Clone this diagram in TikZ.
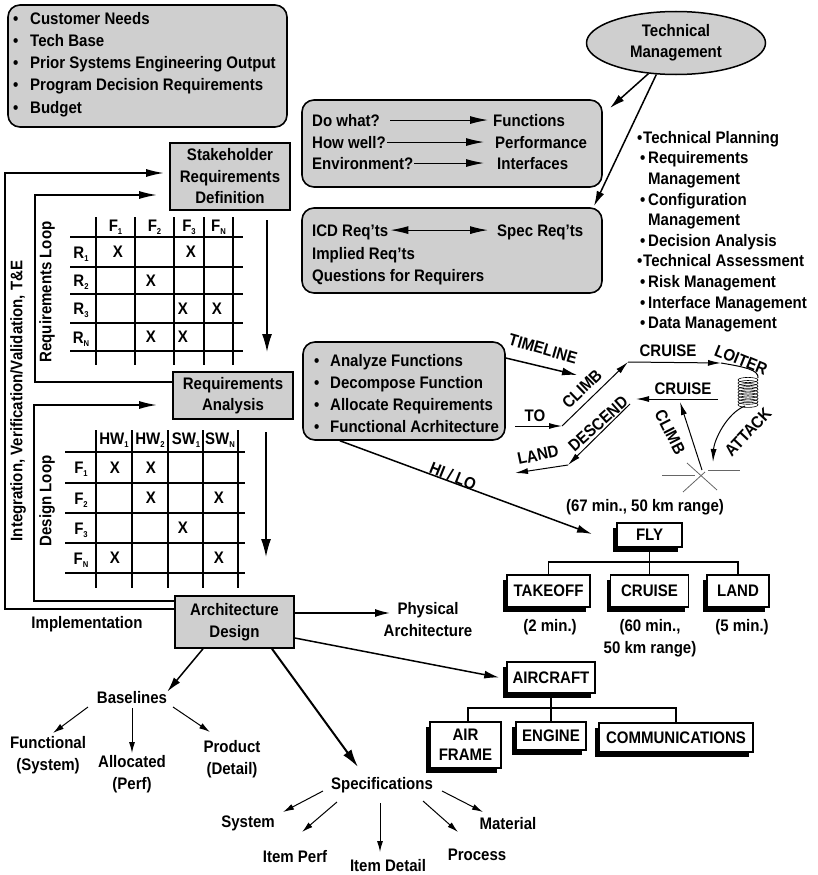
\documentclass[tikz,border=0pt]{standalone}
\usepackage{fontspec}
\setmainfont{Liberation Sans}[FakeStretch=0.9]
\usetikzlibrary{arrows.meta,shapes.geometric,shadows}
\definecolor{boxgray}{gray}{0.81}
\newcommand\sbs[1]{\raisebox{-3pt}{\fontsize{8.5}{8.5}\selectfont #1}}
\newcommand\fnt{\fontsize{16.7}{22}\selectfont\bfseries}
\begin{document}
\begin{tikzpicture}[x=1pt,y=-1pt,
  every node/.style={inner sep=0pt, font=\fnt},
  gbox/.style={draw, line width=1.6pt, fill=boxgray, align=center},
  rbox/.style={draw, line width=1.6pt, fill=boxgray, rounded corners=12pt},
  sbox/.style={draw, line width=1.5pt, fill=white, align=center,
    general shadow={fill=black, shadow xshift=-4pt, shadow yshift=-5pt}},
  tline/.style={line width=1.5pt},
  gline/.style={line width=1.6pt},
  lp/.style={line width=1.8pt, -{Latex[length=18pt,width=8pt]}},
  varr/.style={line width=1.5pt, -{Latex[length=18pt,width=10pt]}},
  arr/.style={line width=1.5pt, -{Latex[length=15pt,width=8pt]}},
  arrm/.style={line width=1pt, -{Latex[length=18pt,width=8pt]}},
  arrs/.style={line width=1pt, -{Latex[length=11pt,width=6pt]}},
  arrb/.style={line width=2pt, -{Latex[length=18pt,width=10pt]}},
  marr/.style={line width=1pt, -{Latex[length=13pt,width=6pt]}},
  mline/.style={line width=1pt},
  star/.style={line width=0.8pt, black!60},
]
\useasboundingbox (0,0) rectangle (817,875);

% ---------- top-left inputs ----------
\node[rbox, minimum width=279pt, minimum height=122pt] (inp) at (147.5,66) {};
\node[anchor=north west, align=left, font=\fontsize{16.7}{22.2}\selectfont\bfseries] (inpt) at (13,12)
 {\makebox[17pt][l]{•}Customer Needs\\
  \makebox[17pt][l]{•}Tech Base\\
  \makebox[17pt][l]{•}Prior Systems Engineering Output\\
  \makebox[17pt][l]{•}Program Decision Requirements\\
  \makebox[17pt][l]{•}Budget};

% ---------- technical management ----------
\node[ellipse, draw, line width=1.5pt, fill=boxgray, minimum width=179pt, minimum height=63pt,
  align=center, font=\fontsize{16.7}{21}\selectfont\bfseries] (tm) at (676,43) {Technical\\Management};

\node[rbox, minimum width=300pt, minimum height=87pt] (ub) at (452,143.5) {};
\node[anchor=base west] (dw) at (312,126) {Do what?};
\node[anchor=base west] (hw) at (312,148) {How well?};
\node[anchor=base west] (en) at (312,169) {Environment?};
\node[anchor=base west] (fn) at (493,126) {Functions};
\node[anchor=base west] (pf) at (495,148) {Performance};
\node[anchor=base west] (itf) at (497,169) {Interfaces};
\draw[arrm] ([xshift=10pt]dw.east) -- ([xshift=-5pt]fn.west);
\draw[arrm] ([xshift=1pt]hw.east) -- ([xshift=-11pt]pf.west);
\draw[arrm] ([xshift=1pt]en.east) -- ([xshift=-13pt]itf.west);

\node[rbox, minimum width=300pt, minimum height=85pt] (lb) at (452,250.5) {};
\node[anchor=base west] (icd) at (312,236) {ICD Req’ts};
\node[anchor=base west] (spr) at (497,236) {Spec Req’ts};
\node[anchor=base west] (imp) at (312,259) {Implied Req’ts};
\node[anchor=base west] (qfr) at (312,281) {Questions for Requirers};
\draw[line width=1pt, {Latex[length=18pt,width=8pt]}-{Latex[length=18pt,width=8pt]}]
  ([xshift=2pt,yshift=1.8pt]icd.east) -- ([xshift=-9pt,yshift=1.8pt]spr.west);

\coordinate (t1) at (610,108);
\coordinate (t2) at (594,206);
\draw[arr] (tm.228) -- (t1);
\draw[arr] (tm.238) -- (t2);

\node[anchor=north west, align=left, font=\fontsize{16.7}{20.6}\selectfont\bfseries] (tml) at (637,131)
 {\makebox[6pt][l]{•}Technical Planning\\
  \hspace*{3pt}\makebox[8pt][l]{•}Requirements\\
  \hspace*{11pt}Management\\
  \hspace*{3pt}\makebox[8pt][l]{•}Configuration\\
  \hspace*{11pt}Management\\
  \hspace*{3pt}\makebox[8pt][l]{•}Decision Analysis\\
  \makebox[6pt][l]{•}Technical Assessment\\
  \hspace*{3pt}\makebox[8pt][l]{•}Risk Management\\
  \hspace*{3pt}\makebox[8pt][l]{•}Interface Management\\
  \hspace*{3pt}\makebox[8pt][l]{•}Data Management};

% ---------- process boxes ----------
\node[gbox, minimum width=120pt, minimum height=67pt, font=\fontsize{16.7}{21.5}\selectfont\bfseries] (sh) at (230,176.5) {Stakeholder\\Requirements\\Definition};
\node[gbox, minimum width=120pt, minimum height=47pt, font=\fontsize{16.7}{21}\selectfont\bfseries] (ra) at (233,395.5) {Requirements\\Analysis};
\node[gbox, minimum width=119pt, minimum height=52pt] (ad) at (234.5,622) {Architecture\\Design};

% loops
\coordinate (o1) at (5,609); \coordinate (o2) at (5,173);
\coordinate (r1) at (35,382); \coordinate (r2) at (35,195);
\coordinate (d1) at (34,601); \coordinate (d2) at (34,405);
\draw[lp] (ad.west |- o1) -- (o1) -- (o2) -- ([xshift=-5pt]sh.west |- o2);
\draw[lp] (ra.west |- r1) -- (r1) -- (r2) -- ([xshift=-12pt]sh.west |- r2);
\draw[lp] (ad.west |- d1) -- (d1) -- (d2) -- ([xshift=-15pt]ra.west |- d2);

\node[rotate=90] (ivv) at (18,401) {Integration, Verification/Validation, T\&E};
\node[rotate=90] (rl) at (47,292) {Requirements Loop};
\node[rotate=90] (dl) at (47,501) {Design Loop};
\node (impl) at (87,624) {Implementation};

% vertical arrows
\coordinate (v1a) at (267,220); \coordinate (v1b) at (267,352);
\coordinate (v2a) at (266,432); \coordinate (v2b) at (266,557);
\draw[varr] (v1a) -- (v1b);
\draw[varr] (v2a) -- (v2b);

% ---------- matrix 1 ----------
\foreach \y in {237,267,294,323,351} \draw[gline] (70,\y) -- (243,\y);
\foreach \x in {96,135,174,204,233} \draw[gline] (\x,217) -- (\x,365);
\node[anchor=base] (m1h1) at (115.5,231) {F\sbs{1}};
\node[anchor=base] (m1h2) at (154.5,231) {F\sbs{2}};
\node[anchor=base] (m1h3) at (189,231) {F\sbs{3}};
\node[anchor=base] (m1h4) at (218.5,231) {F\sbs{N}};
\node[anchor=base] (m1r1) at (81,258) {R\sbs{1}};
\node[anchor=base] (m1r2) at (81,286.5) {R\sbs{2}};
\node[anchor=base] (m1r3) at (81,314.5) {R\sbs{3}};
\node[anchor=base] (m1r4) at (81,343) {R\sbs{N}};
\node (x11) at (118,252) {X};
\node (x12) at (191,252) {X};
\node (x21) at (151,280.5) {X};
\node (x31) at (183,308.5) {X};
\node (x32) at (217,308.5) {X};
\node (x41) at (151,337) {X};
\node (x42) at (183,337) {X};

% ---------- matrix 2 ----------
\foreach \y in {452,483,513,543,573} \draw[gline] (65,\y) -- (245,\y);
\foreach \x in {96,132,168,203,238} \draw[gline] (\x,430) -- (\x,588);
\node[anchor=base] (m2h1) at (114,444) {HW\sbs{1}};
\node[anchor=base] (m2h2) at (150,444) {HW\sbs{2}};
\node[anchor=base] (m2h3) at (186,444) {SW\sbs{1}};
\node[anchor=base] (m2h4) at (220,444) {SW\sbs{N}};
\node[anchor=base] (m2r1) at (81,473.5) {F\sbs{1}};
\node[anchor=base] (m2r2) at (81,504) {F\sbs{2}};
\node[anchor=base] (m2r3) at (81,534) {F\sbs{3}};
\node[anchor=base] (m2r4) at (81,564) {F\sbs{N}};
\node (y11) at (115,467.5) {X};
\node (y12) at (151,467.5) {X};
\node (y21) at (151,498) {X};
\node (y22) at (219,498) {X};
\node (y31) at (183,528) {X};
\node (y41) at (115,558) {X};
\node (y42) at (219,558) {X};

% ---------- functional analysis ----------
\node[rbox, minimum width=202pt, minimum height=98pt] (fa) at (404,391) {};
\node[anchor=north west, align=left, font=\fontsize{16.7}{22}\selectfont\bfseries] (fat) at (314,354)
 {\makebox[16pt][l]{•}Analyze Functions\\
  \makebox[16pt][l]{•}Decompose Function\\
  \makebox[16pt][l]{•}Allocate Requirements\\
  \makebox[16pt][l]{•}Functional Acrhitecture};

% physical architecture
\coordinate (pa) at (390,613);
\draw[arr] (ad.east |- pa) -- (pa);
\node[align=center] (phys) at (428,620) {Physical\\Architecture};

% ---------- mission profile ----------
\coordinate (tl0) at (505,358); \coordinate (tl1) at (577,375);
\draw[arr] (fa.east |- tl0) -- (tl1);
\coordinate (hl0) at (340,441); \coordinate (hl1) at (592,534);
\draw[arr] (fa.south -| hl0) -- (hl1);

\coordinate (to0) at (515,426); \coordinate (to1) at (562,426);
\coordinate (cl1) at (628,362); \coordinate (cr1) at (721,363);
\coordinate (co0) at (758,378);
\coordinate (atk0) at (745,406); \coordinate (atk1) at (713,462);
\coordinate (ex) at (702,470); \coordinate (cb1) at (680,402);
\coordinate (cr2a) at (718,399); \coordinate (cr2b) at (636,399);
\coordinate (de0) at (630,404); \coordinate (de1) at (568,465);
\coordinate (la1) at (515,473);
\draw[marr] (to0) -- (to1);
\draw[marr] (to1) -- (cl1);
\draw[marr] (cl1) -- (cr1);
\draw[mline] (cr1) .. controls (745,367) and (759,370) .. (co0);
\foreach \i in {0,...,8} \draw[line width=0.6pt] (748,{380+3.1*\i}) ellipse [x radius=10pt, y radius=2.6pt];
\draw[marr] (atk0) .. controls (727,413) and (714,440) .. (atk1);
\draw[marr] (ex) -- (cb1);
\draw[marr] (cr2a) -- (cr2b);
\draw[marr] (de0) -- (de1);
\draw[marr] (de1) -- (la1);
\draw[star] (662,475) -- (695,475);
\draw[star] (708,470) -- (740,470);
\draw[star] (687,463) -- (717,490);
\draw[star] (683,492) -- (705,472);

\node[rotate=-16] (tlL) at (543,349) {TIMELINE};
\node (toL) at (535,416) {TO};
\node[rotate=44] (clL) at (582,389) {CLIMB};
\node (crL) at (668,351) {CRUISE};
\node[rotate=-22] (loL) at (741,360) {LOITER};
\node (cr2L) at (683,389) {CRUISE};
\node[rotate=-63] (cl2L) at (670,432) {CLIMB};
\node[rotate=47] (atL) at (748,432) {ATTACK};
\node[rotate=42] (deL) at (598,424) {DESCEND};
\node[rotate=12] (laL) at (538,455) {LAND};
\node[rotate=-22] (hlL) at (453,476) {HI / LO};
\node (rng) at (645,507) {(67 min., 50 km range)};

% ---------- FLY tree ----------
\node[sbox, minimum width=65pt, minimum height=24pt] (fly) at (649.5,535) {FLY};
\node[sbox, minimum width=83pt, minimum height=32pt] (tko) at (548.5,591) {TAKEOFF};
\node[sbox, minimum width=78pt, minimum height=32pt] (cru) at (649.5,591) {CRUISE};
\node[sbox, minimum width=62pt, minimum height=32pt] (lnd) at (738,591) {LAND};
\coordinate (fj) at (649.5,562);
\draw[tline] (fly.south) -- (cru.north);
\draw[tline] (tko.north) |- (fj) -| (lnd.north);
\node (tm2) at (550,627) {(2 min.)};
\node[align=center] (tm60) at (650,638) {(60 min.,\\50 km range)};
\node (tm5) at (742,627) {(5 min.)};

% ---------- AIRCRAFT tree ----------
\node[sbox, minimum width=88pt, minimum height=31pt] (ac) at (551,677.5) {AIRCRAFT};
\node[sbox, minimum width=71pt, minimum height=46pt, font=\fontsize{16.7}{20}\selectfont\bfseries] (af) at (465.5,745) {AIR\\FRAME};
\node[sbox, minimum width=70pt, minimum height=28pt] (eng) at (551,736) {ENGINE};
\node[sbox, minimum width=154pt, minimum height=29pt] (com) at (676,737.5) {COMMUNICATIONS};
\coordinate (aj) at (551,708);
\draw[tline] (ac.south) -- (eng.north);
\draw[tline] ([xshift=2.5pt]af.north) |- (aj) -| (com.north);
\draw[arr] ([yshift=-16pt]ad.east) -- ([xshift=-7pt]ac.west);

% ---------- baselines ----------
\node (bl) at (132,698) {Baselines};
\draw[arr] ([xshift=-31.5pt]ad.south) -- (bl.north east);
\node[align=center] (fun) at (48,755) {Functional\\(System)};
\node[align=center] (alo) at (132,774) {Allocated\\(Perf)};
\node[align=center] (prd) at (232,759) {Product\\(Detail)};
\coordinate (bfa) at (88,707); \coordinate (bfb) at (53,733);
\coordinate (baa) at (132,708); \coordinate (bab) at (132,753);
\coordinate (bpa) at (173,707); \coordinate (bpb) at (210,732);
\draw[arrs] (bfa) -- (bfb);
\draw[arrs] (baa) -- (bab);
\draw[arrs] (bpa) -- (bpb);

% ---------- specifications ----------
\node (spc) at (382,785) {Specifications};
\coordinate (sp0) at (358,767);
\draw[arrb] ([xshift=37.5pt]ad.south) -- (sp0);
\node (sys) at (248,823) {System};
\node (ipf) at (295,857) {Item Perf};
\node (idt) at (388,866) {Item Detail};
\node (prc) at (477,855) {Process};
\node (mat) at (508,824) {Material};
\coordinate (s1a) at (323,791); \coordinate (s1b) at (283,812);
\coordinate (s2a) at (337,802); \coordinate (s2b) at (302,832);
\coordinate (s3a) at (380,803); \coordinate (s3b) at (380,852);
\coordinate (s4a) at (423,801); \coordinate (s4b) at (458,832);
\coordinate (s5a) at (442,791); \coordinate (s5b) at (483,812);
\draw[arrs] (s1a) -- (s1b);
\draw[arrs] (s2a) -- (s2b);
\draw[arrs] (s3a) -- (s3b);
\draw[arrs] (s4a) -- (s4b);
\draw[arrs] (s5a) -- (s5b);
\end{tikzpicture}
\end{document}
